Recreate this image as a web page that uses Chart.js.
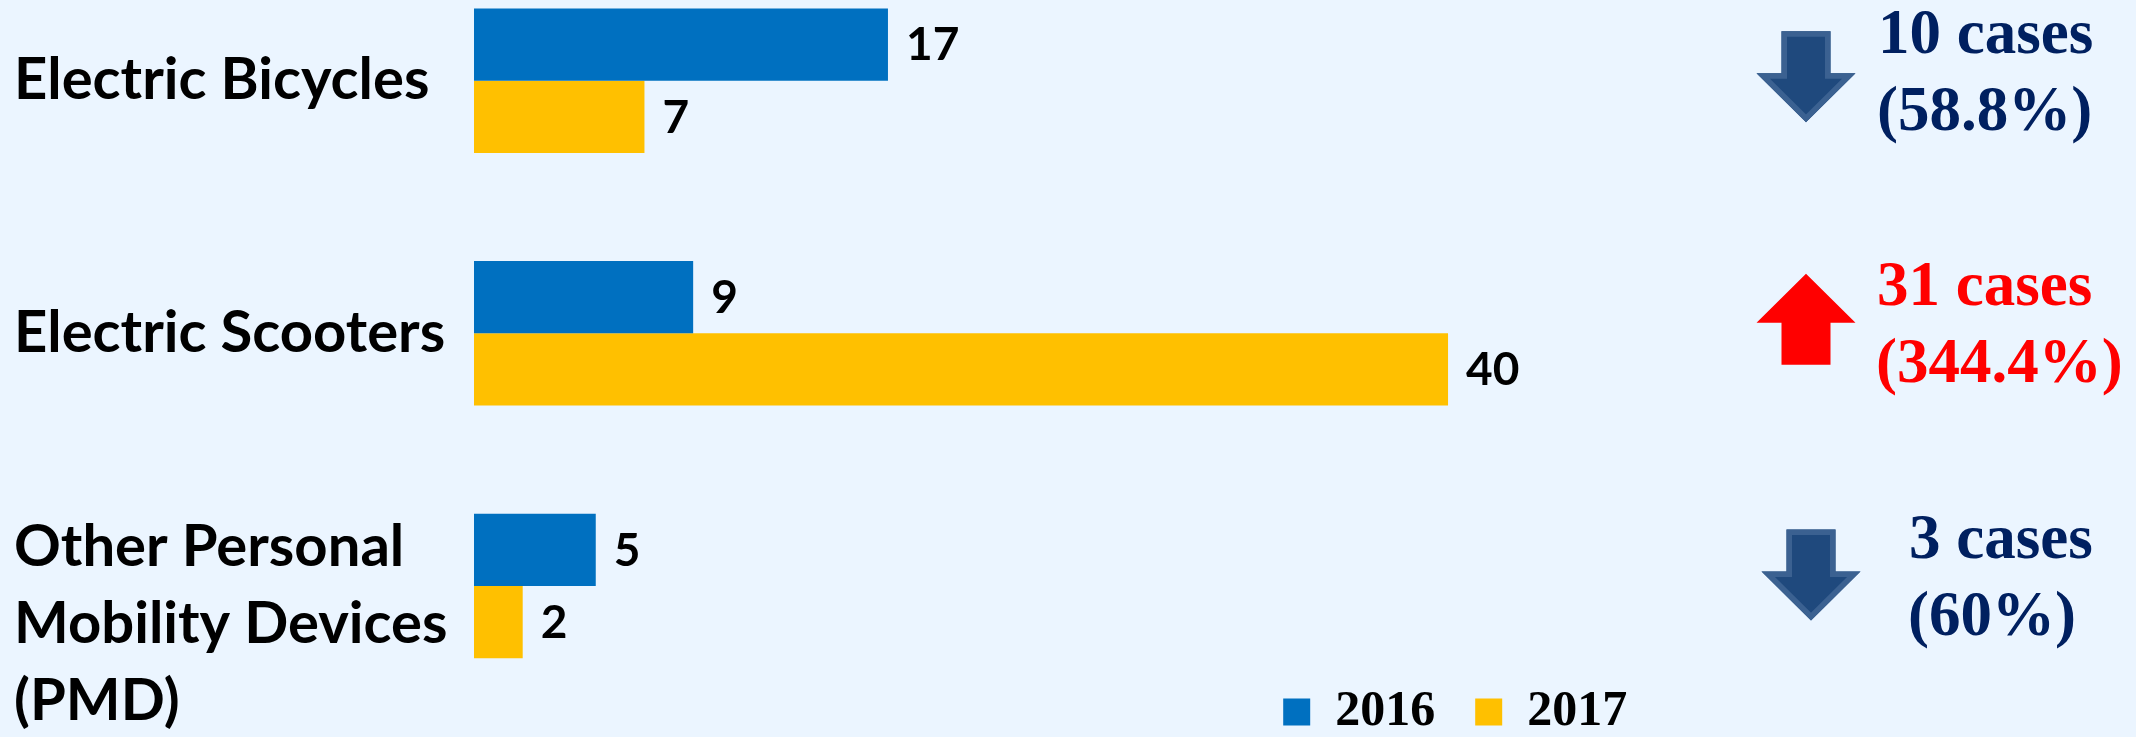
<!DOCTYPE html>
<html>
<head>
<meta charset="utf-8">
<script src="https://cdn.jsdelivr.net/npm/chart.js@4.4.1/dist/chart.umd.min.js"></script>
<style>
  html, body { margin: 0; padding: 0; background: #EBF5FF; overflow: hidden; }
  #wrap { position: relative; width: 2136px; height: 747px; }
</style>
</head>
<body>
<div id="wrap"><canvas id="myChart"></canvas></div>
<script>
// data
const categories = ['Electric Bicycles', 'Electric Scooters', ['Other Personal', 'Mobility Devices', '(PMD)']];
const years = ['2016', '2017'];
const cases2016 = [17, 9, 5];
const cases2017 = [7, 40, 2];
const changeCases = ['10 cases', '31 cases', '3 cases'];
const changePct = ['(58.8%)', '(344.4%)', '(60%)'];
const changeDir = ['down', 'up', 'down'];

const blue = '#0070C0';
const yellow = '#FFC000';

// numbers at the end of each bar
const valueLabels = {
  id: 'valueLabels',
  afterDatasetsDraw(chart) {
    const ctx = chart.ctx;
    ctx.save();
    ctx.font = 'bold 46px Lato';
    ctx.fillStyle = '#000';
    ctx.textAlign = 'left';
    ctx.textBaseline = 'middle';
    chart.data.datasets.forEach((ds, i) => {
      chart.getDatasetMeta(i).data.forEach((bar, j) => {
        ctx.fillText(ds.data[j], bar.x + 18, bar.y + 1);
      });
    });
    ctx.restore();
  }
};

// arrows + change text on the right
const changeNotes = {
  id: 'changeNotes',
  afterDraw(chart) {
    const ctx = chart.ctx;
    const y = chart.scales.y;
    const arrowX = [1806, 1806, 1811];
    const arrowOff = [-4, -14, -11];
    const textX = [1878, 1877, 1909];
    ctx.save();
    changeCases.forEach((txt, i) => {
      const cy = y.getPixelForValue(i);
      const cx = arrowX[i];
      const top = cy + arrowOff[i] - 45.5;
      const up = changeDir[i] === 'up';
      const sw = 24.5, hw = 49.5;
      ctx.beginPath();
      if (up) {
        ctx.moveTo(cx, top);
        ctx.lineTo(cx + hw, top + 49);
        ctx.lineTo(cx + sw, top + 49);
        ctx.lineTo(cx + sw, top + 91);
        ctx.lineTo(cx - sw, top + 91);
        ctx.lineTo(cx - sw, top + 49);
        ctx.lineTo(cx - hw, top + 49);
      } else {
        ctx.moveTo(cx - sw, top);
        ctx.lineTo(cx + sw, top);
        ctx.lineTo(cx + sw, top + 42);
        ctx.lineTo(cx + hw, top + 42);
        ctx.lineTo(cx, top + 91);
        ctx.lineTo(cx - hw, top + 42);
        ctx.lineTo(cx - sw, top + 42);
      }
      ctx.closePath();
      ctx.fillStyle = up ? '#FF0000' : '#1F497D';
      ctx.fill();
      if (!up) {
        ctx.save();
        ctx.clip();
        ctx.lineWidth = 11;
        ctx.strokeStyle = '#3B6191';
        ctx.stroke();
        ctx.restore();
      }

      ctx.fillStyle = up ? '#FF0000' : '#002060';
      ctx.font = 'bold 63px "Liberation Serif"';
      ctx.textAlign = 'left';
      ctx.textBaseline = 'alphabetic';
      ctx.fillText(txt, textX[i], cy - 28);
      ctx.fillText(changePct[i], textX[i] - 1, cy + 49);
    });
    ctx.restore();
  }
};

const chartData = {
  labels: categories,
  datasets: [
    { label: years[0], data: cases2016, backgroundColor: blue, clip: false,
      barPercentage: 1, categoryPercentage: 0.572 },
    { label: years[1], data: cases2017, backgroundColor: yellow, clip: false,
      barPercentage: 1, categoryPercentage: 0.572 }
  ]
};

const canvas = document.getElementById('myChart');
const chart = new Chart(canvas, {
  type: 'bar',
  data: chartData,
  options: {
    indexAxis: 'y',
    responsive: true,
    maintainAspectRatio: false,
    animation: false,
    layout: { padding: { left: 14, right: 468.8, top: 80.7, bottom: 0 } },
    scales: {
      x: {
        min: 0,
        max: 49,
        grid: { display: false },
        border: { display: false },
        ticks: { display: false },
        afterFit: s => { s.height = 61; }
      },
      y: {
        offset: false,
        grid: { display: false },
        border: { display: false },
        ticks: {
          autoSkip: false,
          crossAlign: 'far',
          color: '#000',
          font: { family: 'Lato', weight: 'bold', size: 58, lineHeight: '77px' },
          // multi-line label sits a bit lower than its bars
          callback: function(v) {
            const l = this.getLabelForValue(v);
            return Array.isArray(l) ? [''].concat(l) : l;
          }
        },
        afterFit: s => {
          s.width = 460;
          s.paddingTop = 0;
          s.paddingBottom = 0;
        }
      }
    },
    plugins: {
      legend: {
        position: 'bottom',
        align: 'end',
        labels: {
          boxWidth: 27,
          boxHeight: 27,
          padding: 40,
          color: '#000',
          font: { family: 'Liberation Serif', weight: 'bold', size: 50 }
        }
      },
      tooltip: { enabled: false }
    }
  },
  plugins: [valueLabels, changeNotes]
});
</script>
</body>
</html>
